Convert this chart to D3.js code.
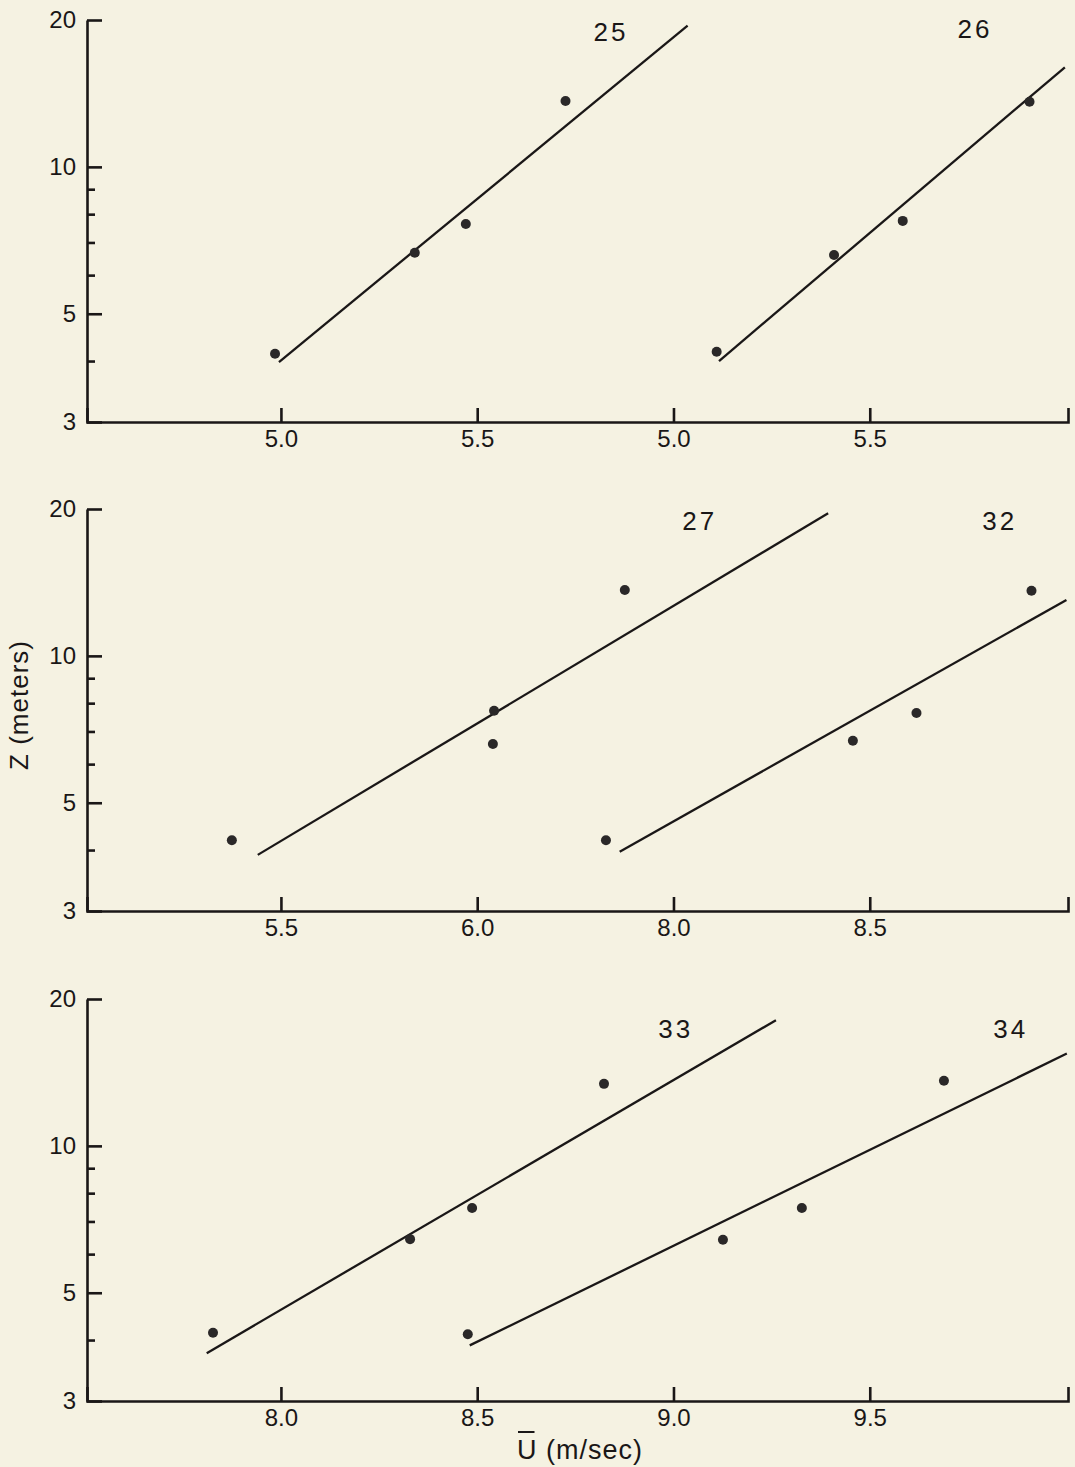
<!DOCTYPE html>
<html>
<head>
<meta charset="utf-8">
<script src="https://cdn.jsdelivr.net/npm/d3@7"></script>
<style>
  body { margin: 0; background: #f5f2e2; }
  svg { display: block; font-family: 'Liberation Sans', Arial, sans-serif; }
</style>
</head>
<body>
<svg id="drawing_region"></svg>
<script>
// y axis (log, metres)
const yMajorTicks = [3, 5, 10, 20];
const yMinorTicks = [4, 6, 7, 8, 9];

// x tick labels of each panel (left to right)
const xLabelsTop = ['5.0', '5.5', '5.0', '5.5'];
const xLabelsMid = ['5.5', '6.0', '8.0', '8.5'];
const xLabelsBottom = ['8.0', '8.5', '9.0', '9.5'];

// runs: mean speed U (m/sec) at height Z (m), plus fitted line ends
const u25 = [4.985, 5.341, 5.471, 5.725];
const z25 = [4.14, 6.67, 7.64, 13.65];
const fitU25 = [4.995, 6.036];
const fitZ25 = [3.98, 19.47];

const u26 = [5.110, 5.409, 5.584, 5.907];
const z26 = [4.18, 6.6, 7.75, 13.6];
const fitU26 = [5.116, 5.997];
const fitZ26 = [4.0, 16.0];

const u27 = [5.375, 6.043, 6.040, 6.376];
const z27 = [4.19, 7.72, 6.6, 13.65];
const fitU27 = [5.441, 6.894];
const fitZ27 = [3.91, 19.6];

const u32 = [7.828, 8.457, 8.619, 8.912];
const z32 = [4.19, 6.70, 7.64, 13.6];
const fitU32 = [7.863, 9.001];
const fitZ32 = [3.97, 13.02];

const u33 = [7.827, 8.329, 8.487, 8.823];
const z33 = [4.14, 6.44, 7.46, 13.4];
const fitU33 = [7.811, 9.261];
const fitZ33 = [3.76, 18.1];

const u34 = [8.476, 9.126, 9.327, 9.689];
const z34 = [4.11, 6.42, 7.46, 13.6];
const fitU34 = [8.481, 10.002];
const fitZ34 = [3.90, 15.46];

const config = {
    width: 1075,
    height: 1467,
    margin: {left: 87, right: 7},
    inner_height: 402,
    ink: '#1a1717'
};

const panels = [
    {top: 20, labels: xLabelsTop, runs: [
        {name: '25', u: u25, z: z25, fitU: fitU25, fitZ: fitZ25, ticks: [5.0, 5.5], slots: [0, 1], labelU: 5.841, labelZ: 18.1},
        {name: '26', u: u26, z: z26, fitU: fitU26, fitZ: fitZ26, ticks: [5.0, 5.5], slots: [2, 3], labelU: 5.768, labelZ: 18.4}
    ]},
    {top: 509, labels: xLabelsMid, runs: [
        {name: '27', u: u27, z: z27, fitU: fitU27, fitZ: fitZ27, ticks: [5.5, 6.0], slots: [0, 1], labelU: 6.567, labelZ: 18.1},
        {name: '32', u: u32, z: z32, fitU: fitU32, fitZ: fitZ32, ticks: [8.0, 8.5], slots: [2, 3], labelU: 8.831, labelZ: 18.1}
    ]},
    {top: 999, labels: xLabelsBottom, runs: [
        {name: '33', u: u33, z: z33, fitU: fitU33, fitZ: fitZ33, ticks: [8.0, 9.5], slots: [0, 3], labelU: 9.006, labelZ: 16.6},
        {name: '34', u: u34, z: z34, fitU: fitU34, fitZ: fitZ34, ticks: [8.0, 9.5], slots: [0, 3], labelU: 9.859, labelZ: 16.6}
    ]}
];

const svg = d3.select('#drawing_region')
    .attr('width', config.width)
    .attr('height', config.height);

svg.append('rect')
    .attr('width', config.width)
    .attr('height', config.height)
    .attr('fill', '#f5f2e2');

const inner_width = config.width - config.margin.left - config.margin.right;

// tick slots: 4 evenly spaced tick positions per panel
const slot = d3.scaleLinear()
    .domain([-0.988, 4.01])
    .range([0, inner_width]);

const yscale = d3.scaleLog()
    .domain([3, 20])
    .range([config.inner_height, 0]);

panels.forEach(p => {
    const chart = svg.append('g')
        .attr('transform', `translate(${config.margin.left}, ${p.top})`);

    // x axis, ticks pointing inwards
    const xaxis = d3.axisBottom(slot)
        .tickValues([0, 1, 2, 3])
        .tickFormat((d, i) => p.labels[i])
        .tickSizeInner(-14)
        .tickSizeOuter(-14)
        .tickPadding(8);

    const xg = chart.append('g')
        .attr('transform', `translate(0, ${config.inner_height})`)
        .call(xaxis);

    // y axis, major + minor ticks
    const yaxis = d3.axisLeft(yscale)
        .tickValues(yMajorTicks)
        .tickFormat(d3.format('d'))
        .tickSizeInner(-15)
        .tickSizeOuter(0)
        .tickPadding(11);

    const yg = chart.append('g').call(yaxis);

    const ymg = chart.append('g')
        .call(d3.axisLeft(yscale).tickValues(yMinorTicks).tickFormat('').tickSize(-8));
    ymg.select('.domain').remove();

    [xg, yg, ymg].forEach(g => {
        g.attr('font-family', null).attr('font-size', null);
        g.selectAll('path, line')
            .attr('stroke', config.ink)
            .attr('stroke-width', 2.6);
        g.selectAll('text')
            .attr('fill', config.ink)
            .style('font-size', '24px');
    });

    p.runs.forEach(r => {
        const xscale = d3.scaleLinear()
            .domain(r.ticks)
            .range(r.slots.map(s => slot(s)));

        const fit = r.fitU.map((u, i) => [u, r.fitZ[i]]);
        chart.append('path')
            .datum(fit)
            .attr('fill', 'none')
            .attr('stroke', config.ink)
            .attr('stroke-width', 2.3)
            .attr('d', d3.line().x(d => xscale(d[0])).y(d => yscale(d[1])));

        const pts = r.u.map((u, i) => ({u: u, z: r.z[i]}));
        chart.selectAll(null).data(pts)
            .join('circle')
            .attr('cx', d => xscale(d.u))
            .attr('cy', d => yscale(d.z))
            .attr('r', 5)
            .attr('fill', '#2a2828');

        chart.append('text')
            .attr('x', xscale(r.labelU))
            .attr('y', yscale(r.labelZ))
            .attr('text-anchor', 'middle')
            .attr('fill', config.ink)
            .style('font-size', '26px')
            .style('letter-spacing', '3px')
            .text(r.name);
    });
});

// y title
svg.append('text')
    .attr('transform', 'translate(28, 705) rotate(-90)')
    .attr('text-anchor', 'middle')
    .attr('fill', config.ink)
    .style('font-size', '26px')
    .style('letter-spacing', '1px')
    .text('Z (meters)');

// x title with an overbar on U
const xtitle = svg.append('text')
    .attr('x', 580)
    .attr('y', 1459)
    .attr('text-anchor', 'middle')
    .attr('fill', config.ink)
    .style('font-size', '27px')
    .style('letter-spacing', '1px')
    .text('U (m/sec)');

const ext = xtitle.node().getExtentOfChar(0);
svg.append('line')
    .attr('x1', ext.x + 1)
    .attr('x2', ext.x + ext.width - 3)
    .attr('y1', 1432)
    .attr('y2', 1432)
    .attr('stroke', config.ink)
    .attr('stroke-width', 2);
</script>
</body>
</html>
